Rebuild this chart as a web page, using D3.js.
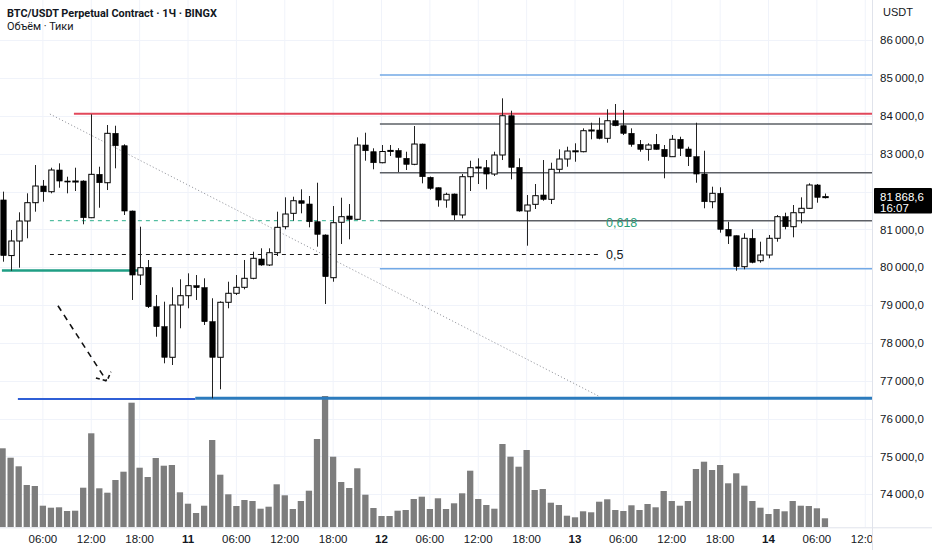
<!DOCTYPE html>
<html><head><meta charset="utf-8">
<script src="https://cdn.jsdelivr.net/npm/d3@7"></script>
<style>
body{margin:0;background:#fff}
svg{display:block}
text{font-family:Roboto,"Noto Sans",sans-serif}
.ax{font-family:"Liberation Sans",Arial,sans-serif}
</style>
</head><body>
<svg id="chart" width="932" height="550"></svg>
<script>
// ---------------- DATA ----------------
const firstHour = 1; // hours counted from 10th 00:00
const opens = [81780,80310,80695,81224,81708,82149,81998,82572,82281,82268,
82281,81311,82458,82236,83542,83214,81488,79796,80000,78959,
78430,77621,79003,79249,79514,79461,78562,77621,79075,79313,
79471,79709,80219,80061,80386,81073,81427,81760,81673,81205,
80854,79725,81190,81356,81269,83233,83056,82765,83080,83087,
82881,82723,83259,82379,82104,81779,81938,81383,82395,82640,
82633,82466,82969,84007,82643,81488,81665,81911,81797,82591,
82863,83074,83056,83620,83629,83410,83875,83743,83542,83251,
83119,83251,83119,82924,83384,83127,82924,82466,81734,81956,
81004,80835,80016,80767,80174,80325,80767,81338,81073,81443,
81560,82176,81860];
const highs = [82000,80986,81454,81956,82704,82308,82633,82749,82395,82633,
82300,84044,82659,83762,83743,83251,81500,81073,80193,79268,
79091,79471,79683,79841,79796,79709,79181,79100,79619,79796,
80193,80412,80502,80502,81470,81850,81866,82062,81885,82236,
80870,81620,81840,81673,83436,83558,83146,83233,83233,83150,
83056,83735,83270,82400,82110,81972,81950,82466,82818,82881,
82836,83056,84467,84140,82881,81911,82202,82836,82765,83119,
83188,83278,83674,83822,83955,84177,84317,84158,83674,83365,
83278,83524,83233,83497,83452,83188,83822,83082,82131,82115,
81205,80840,80899,81004,80677,80854,81383,81443,81647,81850,
82220,82202,81950];
const lows = [80148,79910,79990,80767,81470,81734,81956,82104,81956,82017,
81137,81300,81575,82043,82617,81383,79136,79532,78924,78165,
77462,77417,78388,78916,79136,78475,76537,76775,78916,79268,
79418,79683,80040,80034,80299,81004,81232,81427,81057,80545,
79030,79619,80616,80740,81250,82818,82591,82750,82942,82519,
82572,82700,82220,82050,81602,81575,81250,81295,82017,82202,
82062,82413,82836,82326,81470,80571,81541,81760,81673,82501,
82659,82791,83040,83384,83384,83294,83730,83497,83188,83056,
82818,83110,82353,82920,82942,82678,82236,81560,81560,80915,
80616,79910,79947,80106,80122,80238,80677,81004,80793,81163,
81550,81708,81820];
const closes = [80310,80695,81224,81708,82149,81998,82572,82281,82268,82281,
81311,82458,82236,83542,83214,81488,79796,79990,78959,78430,
77621,79003,79249,79514,79461,78562,77621,79075,79313,79471,
79709,80238,80061,80386,81057,81409,81760,81692,81205,80872,
79752,81179,81338,81269,83233,83082,82765,83061,83090,82908,
82723,83259,82395,82088,81779,81930,81383,82395,82633,82650,
82466,82969,84007,82643,81488,81647,81893,81797,82591,82863,
83074,83080,83611,83630,83410,83875,83743,83542,83251,83119,
83233,83119,82924,83384,83146,82924,82466,81734,81956,81004,
80827,80016,80767,80132,80325,80767,81338,81073,81443,81560,
82176,81850,81868.6];
const volumes = [790,696,610,423,413,216,196,200,163,166,
396,940,390,346,473,556,1246,596,503,693,
616,623,350,236,143,216,873,526,330,213,
273,263,186,206,430,320,183,263,366,883,
1313,706,453,393,590,326,193,113,113,166,
173,283,306,183,290,183,240,340,566,283,
223,186,833,706,606,773,373,383,246,223,
116,100,160,150,256,280,173,163,220,173,
233,200,363,263,216,263,583,656,573,623,
440,540,416,263,196,133,183,160,263,216,
213,190,90];

const timeTickHours = [6,12,18,24,30,36,42,48,54,60,66,72,78,84,90,96,102,108];
const timeTickLabels = ["06:00","12:00","18:00","11","06:00","12:00","18:00","12","06:00","12:00","18:00","13","06:00","12:00","18:00","14","06:00","12:00"];
const dayLabels = ["11","12","13","14"];
const priceTicks = [74000,75000,76000,77000,78000,79000,80000,81000,82000,83000,84000,85000,86000];
const lastPrice = 81868.6;
const countdown = "16:07";

// drawn horizontal levels: [name, price, fromHour, toHour (null = right edge)]
const levels = [
  ["red",       84060,  9.85, null],
  ["fibBlue",   85083, 47.8,  null],
  ["fibGray",   83788, 47.8,  null],
  ["fibGray",   82501, 47.8,  null],
  ["fibGray",   81232, 47.8,  null],
  ["fibBlue",   79963, 47.8,  null],
  ["greenDash", 81232,  6.87, 47.8],
  ["blackDash", 80338,  6.87, 74.9],
  ["teal",      79915,  0.92, 17.8],
  ["royal",     76519,  2.9,  24.9],
  ["steel",     76537, 24.9,  null]
];
const trendLine = [[6.87, 84052], [74.9, 76598]];
const arrowShaft = [[7.87, 78985], [13.9, 77000]];
const arrowHead = [[12.58, 77074], [13.95, 76994], [14.44, 77240]];
const fibLabels = [["0,618", 75.85, 81185, "#2a9d78"], ["0,5", 75.85, 80338, "#131722"]];

// ---------------- CHART ----------------
const W = 932, H = 550, plotR = 872, plotB = 527.3;
const svg = d3.select("#chart");
const x = d3.scaleLinear().domain([24, 96]).range([188, 768.5]);
const y = d3.scaleLinear().domain([80000, 84000]).range([267.3, 116]);
const yv = d3.scaleLinear().domain([0, 1313]).range([plotB, 396]);

const candles = opens.map((o, i) => ({h: firstHour + i, o, hi: highs[i], lo: lows[i], c: closes[i], v: volumes[i]}));

const defs = svg.append("defs");
defs.append("clipPath").attr("id", "plotClip")
  .append("rect").attr("x", 0).attr("y", 0).attr("width", plotR).attr("height", plotB);
defs.append("clipPath").attr("id", "timeClip")
  .append("rect").attr("x", 0).attr("y", plotB).attr("width", plotR).attr("height", H - plotB);

const plot = svg.append("g").attr("clip-path", "url(#plotClip)");

// grid
plot.append("g").selectAll("line").data(timeTickHours).join("line")
  .attr("x1", d => x(d)).attr("x2", d => x(d)).attr("y1", 0).attr("y2", plotB)
  .attr("stroke", "#f0f3fa").attr("stroke-width", 1);
plot.append("g").selectAll("line").data(priceTicks).join("line")
  .attr("x1", 0).attr("x2", plotR).attr("y1", d => Math.round(y(d)) + 0.5).attr("y2", d => Math.round(y(d)) + 0.5)
  .attr("stroke", "#f0f3fa").attr("stroke-width", 1);

// volume
const barW = 6.3;
plot.append("g").selectAll("rect").data(candles).join("rect")
  .attr("x", d => x(d.h) - barW / 2).attr("width", barW)
  .attr("y", d => yv(d.v)).attr("height", d => plotB - yv(d.v))
  .attr("fill", "#7d7d7d");

// levels
const levelStyle = {
  red:       {stroke: "#e2485b", w: 2,   dash: null},
  fibBlue:   {stroke: "#72a9e6", w: 1.5, dash: null},
  fibGray:   {stroke: "#5d6066", w: 1.5, dash: null},
  greenDash: {stroke: "#2bae8c", w: 1,   dash: "4,4"},
  blackDash: {stroke: "#1a1a1a", w: 1,   dash: "4,4"},
  teal:      {stroke: "#1f9e84", w: 2.5, dash: null},
  royal:     {stroke: "#2f5fd6", w: 2,   dash: null},
  steel:     {stroke: "#2c7bbd", w: 3,   dash: null}
};
plot.append("g").selectAll("line").data(levels).join("line")
  .attr("x1", d => x(d[2])).attr("x2", d => d[3] === null ? plotR : x(d[3]))
  .attr("y1", d => y(d[1])).attr("y2", d => y(d[1]))
  .attr("stroke", d => levelStyle[d[0]].stroke)
  .attr("stroke-width", d => levelStyle[d[0]].w)
  .attr("stroke-dasharray", d => levelStyle[d[0]].dash);

// trend (dotted)
const line = d3.line().x(d => x(d[0])).y(d => y(d[1]));
plot.append("path").attr("d", line(trendLine)).attr("fill", "none")
  .attr("stroke", "#9a9ca3").attr("stroke-width", 1).attr("stroke-dasharray", "1.2,2.2");

// arrow
plot.append("path").attr("d", line(arrowShaft)).attr("fill", "none")
  .attr("stroke", "#111").attr("stroke-width", 1.6).attr("stroke-dasharray", "6,5");
plot.append("path").attr("d", line(arrowHead)).attr("fill", "none")
  .attr("stroke", "#111").attr("stroke-width", 1.6).attr("stroke-dasharray", "4,3");

// fib labels
plot.append("g").selectAll("text").data(fibLabels).join("text")
  .attr("class", "ax")
  .attr("x", d => x(d[1])).attr("y", d => y(d[2])).attr("dy", "0.36em")
  .attr("font-size", 12.5).attr("fill", d => d[3]).text(d => d[0]);

// candles
const bodyW = 5.4;
const cg = plot.append("g");
cg.selectAll("line").data(candles).join("line")
  .attr("x1", d => Math.round(x(d.h)) + 0.5).attr("x2", d => Math.round(x(d.h)) + 0.5)
  .attr("y1", d => y(d.hi)).attr("y2", d => y(d.lo))
  .attr("stroke", "#222").attr("stroke-width", 1);
cg.selectAll("rect").data(candles).join("rect")
  .attr("x", d => Math.round(x(d.h)) + 0.5 - bodyW / 2).attr("width", bodyW)
  .attr("y", d => y(Math.max(d.o, d.c)))
  .attr("height", d => Math.max(1, Math.abs(y(d.o) - y(d.c))))
  .attr("fill", d => d.c >= d.o ? "#fff" : "#000")
  .attr("stroke", "#000").attr("stroke-width", d => d.c >= d.o ? 1 : 0.6);

// axis borders
svg.append("line").attr("x1", plotR + 0.5).attr("x2", plotR + 0.5).attr("y1", 0).attr("y2", H)
  .attr("stroke", "#e0e3eb");
svg.append("line").attr("x1", 0).attr("x2", W).attr("y1", plotB + 0.5).attr("y2", plotB + 0.5)
  .attr("stroke", "#e0e3eb");

// price axis
const fmt = v => {
  const s = v.toFixed(1).replace(".", ",");
  const [a, b] = s.split(",");
  return a.replace(/\B(?=(\d{3})+(?!\d))/g, "\u2009") + "," + b;
};
svg.append("g").selectAll("text").data(priceTicks).join("text")
  .attr("class", "ax")
  .attr("x", 880).attr("y", d => y(d)).attr("dy", "0.36em")
  .attr("font-size", 11.5).attr("fill", "#131722").text(d => fmt(d));
svg.append("text").attr("class", "ax").attr("x", 883).attr("y", 16).attr("font-size", 11)
  .attr("fill", "#131722").text("USDT");

// last price label
const ly = y(lastPrice);
svg.append("rect").attr("x", 874).attr("y", ly - 8.5).attr("width", 58).attr("height", 25.5)
  .attr("fill", "#000").attr("rx", 1);
svg.append("text").attr("class", "ax").attr("x", 880).attr("y", ly + 4.5).attr("font-size", 11.5).attr("fill", "#fff")
  .text(fmt(lastPrice));
svg.append("text").attr("class", "ax").attr("x", 880).attr("y", ly + 15).attr("font-size", 11.5).attr("fill", "#fff")
  .text(countdown);

// time axis
const tg = svg.append("g").attr("clip-path", "url(#timeClip)");
tg.selectAll("text").data(timeTickHours).join("text")
  .attr("class", "ax")
  .attr("x", d => x(d)).attr("y", 543).attr("text-anchor", "middle")
  .attr("font-size", 11.5).attr("fill", "#131722")
  .attr("font-weight", (d, i) => dayLabels.includes(timeTickLabels[i]) ? "bold" : "normal")
  .text((d, i) => timeTickLabels[i]);

// header
svg.append("text").attr("x", 7).attr("y", 17).attr("font-size", 10.9).attr("font-weight", "bold")
  .attr("fill", "#131722").text("BTC/USDT Perpetual Contract · 1Ч · BINGX");
svg.append("text").attr("x", 7).attr("y", 30).attr("font-size", 10.9)
  .attr("fill", "#131722").text("Объём · Тики");
</script>
</body></html>
